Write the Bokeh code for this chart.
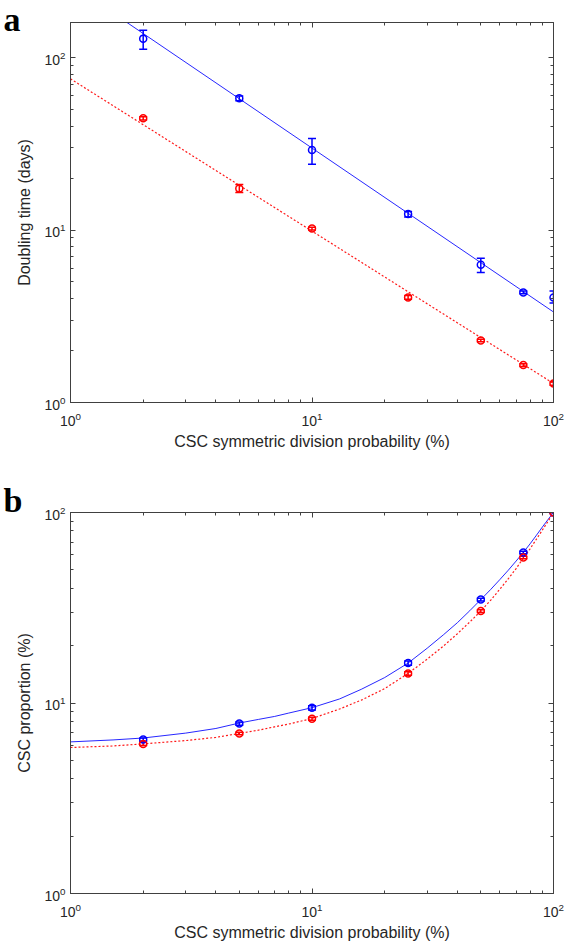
from bokeh.plotting import figure
from bokeh.models import (LogAxis, FixedTicker, Whisker, ColumnDataSource,
                          Range1d, TeeHead, CustomJSTickFormatter, Title)
from bokeh.layouts import column
from bokeh.embed import file_html
from bokeh.resources import INLINE

# ---------------- data ----------------
x_vals = [2, 5, 10, 25, 50, 75, 100]

# panel a: doubling time (days)
a_blue = [129, 58.2, 29.1, 12.4, 6.29, 4.35, 4.07]
a_blue_lo = [112, 56.2, 24.1, 11.9, 5.68, 4.27, 3.78]
a_blue_hi = [144.5, 60.0, 34.0, 12.8, 6.87, 4.43, 4.43]
a_red = [44.5, 17.4, 10.2, 4.07, 2.29, 1.65, 1.29]
a_red_lo = [43.5, 16.5, 10.0, 3.97, 2.25, 1.62, 1.26]
a_red_hi = [45.5, 18.4, 10.4, 4.17, 2.33, 1.68, 1.32]
fit_x_a = [1, 100]
a_blue_fit = [267, 3.35]
a_red_fit = [75.4, 1.29]

# panel b: CSC proportion (%)
b_blue = [6.43, 7.80, 9.43, 16.2, 34.9, 61.7, 100]
b_blue_lo = [6.30, 7.65, 9.20, 15.8, 34.3, 60.8, 100]
b_blue_hi = [6.56, 7.95, 9.66, 16.6, 35.5, 62.6, 100]
b_red = [6.10, 6.92, 8.26, 14.3, 30.4, 58.0, 100]
b_red_lo = [5.98, 6.82, 8.11, 14.0, 29.9, 57.1, 100]
b_red_hi = [6.22, 7.02, 8.41, 14.6, 30.9, 58.9, 100]
fit_x_b = [1, 1.5, 2, 3, 4, 5, 6, 7, 8, 10, 13, 16, 20, 25, 30, 35, 40, 45,
           50, 55, 60, 65, 70, 75, 80, 85, 90, 95, 100]
b_blue_fit = [6.25, 6.4, 6.55, 6.95, 7.35, 7.85, 8.2, 8.5, 8.85, 9.45, 10.5, 11.8,
              13.6, 16.2, 19.4, 22.8, 26.4, 30.5, 34.9, 39.5, 44.5, 49.8, 55.6,
              61.7, 68.5, 76.0, 84.0, 92.0, 100]
b_red_fit = [5.84, 5.95, 6.1, 6.35, 6.6, 6.92, 7.2, 7.5, 7.75, 8.29, 9.3, 10.35,
             11.9, 14.3, 17.0, 19.9, 23.1, 26.6, 30.4, 34.7, 39.6, 44.9, 50.8,
             57.6, 64.5, 72.5, 81.0, 90.0, 100]

x_label = "CSC symmetric division probability (%)"
a_ylabel = "Doubling time (days)"
b_ylabel = "CSC proportion (%)"
major_ticks = [1, 10, 100]
minor_ticks = [2, 3, 4, 5, 6, 7, 8, 9, 20, 30, 40, 50, 60, 70, 80, 90]

AX = "#404040"
FONT = "Liberation Sans"


def style_axis(ax):
    ax.ticker = FixedTicker(ticks=major_ticks, minor_ticks=minor_ticks)
    ax.major_tick_in = 5
    ax.major_tick_out = 0
    ax.minor_tick_in = 3
    ax.minor_tick_out = 0
    ax.axis_line_color = AX
    ax.major_tick_line_color = AX
    ax.minor_tick_line_color = AX
    ax.major_label_text_font = FONT
    ax.major_label_text_font_size = "14px"
    ax.major_label_text_color = "#262626"
    ax.axis_label_text_font = FONT
    ax.axis_label_text_font_size = "16px"
    ax.axis_label_text_font_style = "normal"
    ax.axis_label_text_color = "#262626"


def make_panel(letter, letter_standoff, ylabel, ytop, b_top, f_h, b_bot,
               yb, yb_lo, yb_hi, yr, yr_lo, yr_hi, fx, fb, fr):
    p = figure(x_axis_type="log", y_axis_type="log",
               x_range=Range1d(1, 100), y_range=Range1d(1, ytop),
               frame_width=483, frame_height=f_h,
               min_border_left=70, min_border_right=13,
               min_border_top=b_top, min_border_bottom=b_bot,
               output_backend="svg", toolbar_location=None)
    p.grid.visible = False
    p.outline_line_color = AX
    p.outline_line_width = 1
    p.background_fill_color = "white"
    p.border_fill_color = "white"

    style_axis(p.xaxis[0])
    style_axis(p.yaxis[0])
    p.xaxis[0].axis_label = x_label
    p.yaxis[0].axis_label = ylabel
    p.xaxis[0].major_label_standoff = 9
    p.xaxis[0].axis_label_standoff = 4
    p.yaxis[0].major_label_standoff = 5
    p.yaxis[0].axis_label_standoff = 8

    for loc in ("right", "above"):
        ax = LogAxis()
        style_axis(ax)
        ax.formatter = CustomJSTickFormatter(code="return ''")
        ax.major_label_standoff = 0
        p.add_layout(ax, loc)

    # fitted curves
    p.line(fx, fb, line_color="blue", line_width=1, line_alpha=0.85)
    p.line(fx, fr, line_color="red", line_width=1.2, line_dash="2 2", line_alpha=0.9)

    for col, y, lo, hi in (("blue", yb, yb_lo, yb_hi), ("red", yr, yr_lo, yr_hi)):
        src = ColumnDataSource(dict(x=x_vals, y=y, lo=lo, hi=hi))
        w = Whisker(base="x", lower="lo", upper="hi", source=src,
                    line_color=col, line_width=1.5,
                    upper_head=TeeHead(size=8, line_color=col, line_width=1.5),
                    lower_head=TeeHead(size=8, line_color=col, line_width=1.5))
        p.add_layout(w)
        p.scatter("x", "y", source=src, marker="circle", size=7,
                  fill_color=None, line_color=col, line_width=1.5)

    t = Title(text=letter, align="left", offset=-67, standoff=letter_standoff,
              text_font="Liberation Serif", text_font_style="bold",
              text_font_size="34px", text_color="black", vertical_align="bottom")
    p.add_layout(t, "above")
    return p


pa = make_panel("a", -30, a_ylabel, 160, 22, 380, 58,
                a_blue, a_blue_lo, a_blue_hi, a_red, a_red_lo, a_red_hi,
                fit_x_a, a_blue_fit, a_red_fit)
pb = make_panel("b", -12, b_ylabel, 100, 52, 381, 50,
                b_blue, b_blue_lo, b_blue_hi, b_red, b_red_lo, b_red_hi,
                fit_x_b, b_blue_fit, b_red_fit)

layout = column(pa, pb, spacing=0)
open("out.html", "w").write(file_html(layout, INLINE))
